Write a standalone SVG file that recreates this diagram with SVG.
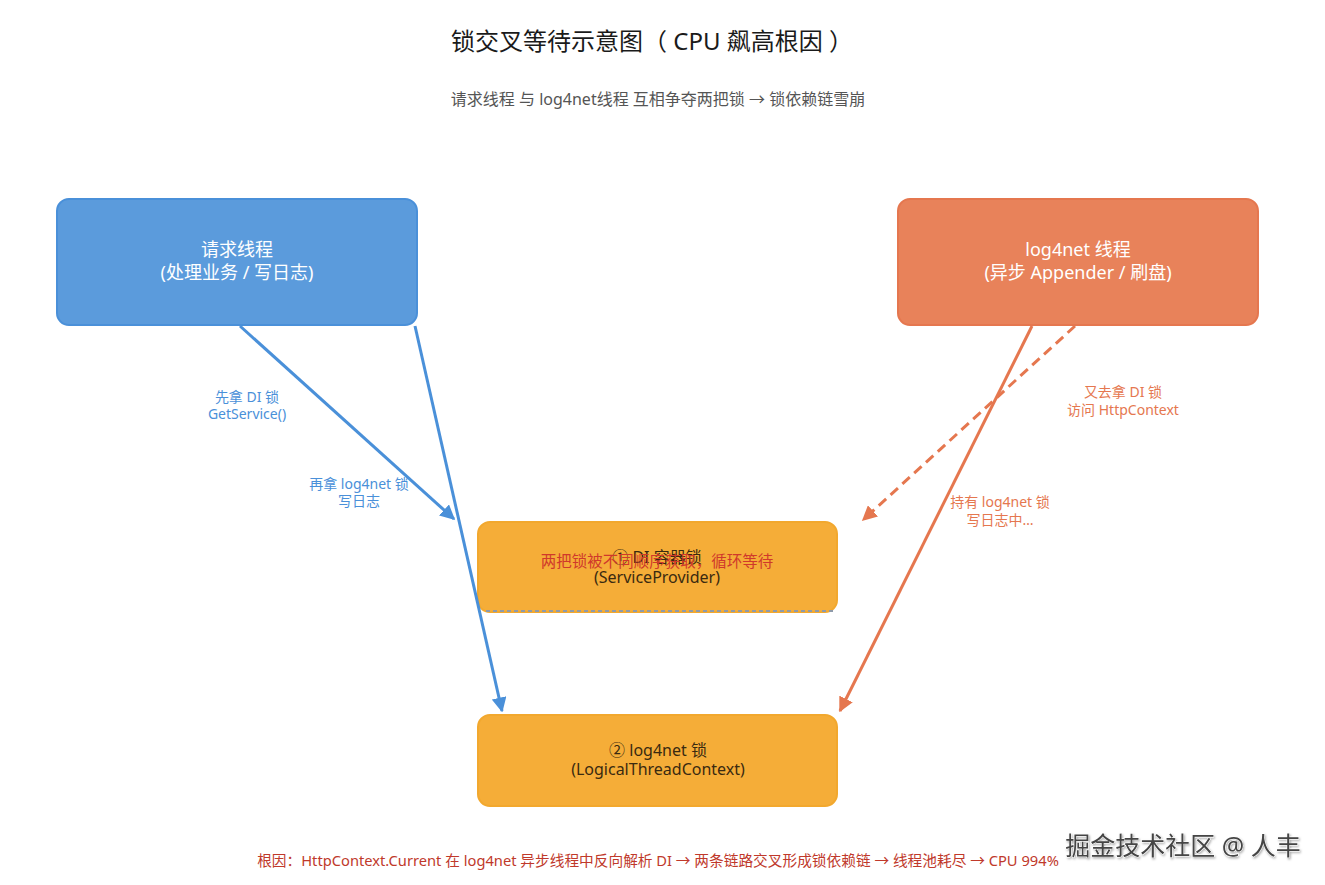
<svg xmlns="http://www.w3.org/2000/svg" width="1325" height="885" viewBox="0 0 1325 885">
<style>
text{font-family:"Noto Sans","Noto Sans CJK SC",sans-serif;text-anchor:middle}
.title{font-size:24px;fill:#1a1a1a}
.sub{font-size:16px;fill:#555}
.wt{font-size:18px;fill:#fff}
.dk{font-size:16px;fill:#3a2a10}
.bl{font-size:14px;fill:#4a90d9}
.or{font-size:14px;fill:#e5774f}
.red{font-size:15.5px;fill:#d0392b}
.foot{font-size:14.7px;fill:#c0392b}
.wm{font-size:25px;fill:#444;stroke:#fff;stroke-width:0.6;paint-order:stroke}
</style>
<defs>
<marker id="ab" viewBox="0 0 10 10" refX="9" refY="5" markerWidth="5" markerHeight="5" orient="auto" markerUnits="strokeWidth"><path d="M0,0 L10,5 L0,10 z" fill="#4a90d9"/></marker>
<marker id="ao" viewBox="0 0 10 10" refX="9" refY="5" markerWidth="5" markerHeight="5" orient="auto" markerUnits="strokeWidth"><path d="M0,0 L10,5 L0,10 z" fill="#e5774f"/></marker>
<filter id="sh" x="-5%" y="-20%" width="110%" height="140%"><feDropShadow dx="1" dy="1.5" stdDeviation="0.8" flood-color="#000" flood-opacity="0.35"/></filter>
</defs>
<text class="title" x="652" y="50">锁交叉等待示意图（ CPU 飙高根因 ）</text>
<text class="sub" x="658" y="105">请求线程 与 log4net线程 互相争夺两把锁 → 锁依赖链雪崩</text>

<g id="req">
<rect x="57" y="199" width="360" height="126" rx="12" fill="#5b9bdc" stroke="#4a90d9" stroke-width="2"/>
<text class="wt" x="237" y="256">请求线程</text>
<text class="wt" x="237" y="279">(处理业务 / 写日志)</text>
</g>
<g id="log4net">
<rect x="898" y="199" width="360" height="126" rx="12" fill="#e8825a" stroke="#e5774f" stroke-width="2"/>
<text class="wt" x="1078" y="256">log4net 线程</text>
<text class="wt" x="1078" y="279">(异步 Appender / 刷盘)</text>
</g>
<g id="dilock">
<rect x="478" y="522" width="359" height="90" rx="12" fill="#f5ad38" stroke="#f2a82e" stroke-width="2"/>
<text class="dk" x="657" y="563">① DI 容器锁</text>
<text class="dk" x="657" y="583">(ServiceProvider)</text>
</g>
<g id="loglock">
<rect x="478" y="715" width="359" height="91" rx="12" fill="#f5ad38" stroke="#f2a82e" stroke-width="2"/>
<text class="dk" x="658" y="756">② log4net 锁</text>
<text class="dk" x="658" y="775">(LogicalThreadContext)</text>
</g>

<g id="connectors" fill="none" stroke-width="3">
<line x1="240" y1="326" x2="454" y2="519" stroke="#4a90d9" marker-end="url(#ab)"/>
<line x1="415" y1="326" x2="502" y2="711" stroke="#4a90d9" marker-end="url(#ab)"/>
<line x1="1032" y1="326" x2="840" y2="711" stroke="#e5774f" marker-end="url(#ao)"/>
<line x1="1075" y1="326" x2="863" y2="520" stroke="#e5774f" stroke-dasharray="10,6" marker-end="url(#ao)"/>
<line x1="486" y1="611" x2="834" y2="611" stroke="#8e9aaa" stroke-width="2" stroke-dasharray="4,3"/>
<text class="bl" stroke="none" x="247" y="402">先拿 DI 锁</text>
<text class="bl" stroke="none" x="247" y="419">GetService()</text>
<text class="bl" stroke="none" x="359" y="489">再拿 log4net 锁</text>
<text class="bl" stroke="none" x="359" y="506">写日志</text>
<text class="or" stroke="none" x="1123" y="397">又去拿 DI 锁</text>
<text class="or" stroke="none" x="1123" y="415">访问 HttpContext</text>
<text class="or" stroke="none" x="1000" y="507">持有 log4net 锁</text>
<text class="or" stroke="none" x="1000" y="525">写日志中…</text>
<text class="red" stroke="none" x="657" y="567">两把锁被不同顺序获取，循环等待</text>
</g>

<text class="foot" x="658" y="866">根因：HttpContext.Current 在 log4net 异步线程中反向解析 DI → 两条链路交叉形成锁依赖链 → 线程池耗尽 → CPU 994%</text>
<text class="wm" x="1183" y="855" filter="url(#sh)">掘金技术社区 @ 人丰</text>
</svg>
